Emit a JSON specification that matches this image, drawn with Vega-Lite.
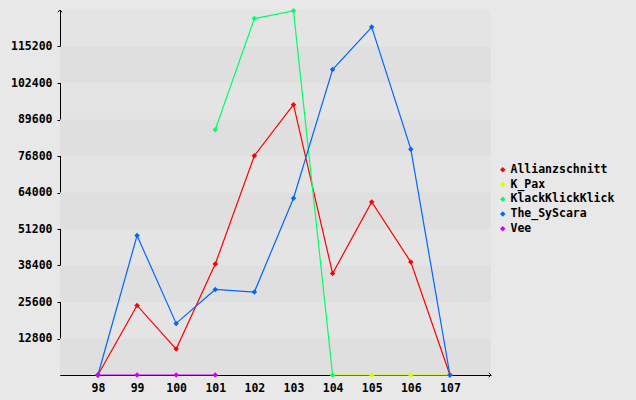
{
  "$schema": "https://vega.github.io/schema/vega-lite/v6.json",
  "width": 431,
  "height": 365,
  "autosize": "none",
  "padding": {"left": 60, "top": 10, "right": 145, "bottom": 25},
  "background": "#e8e8e8",
  "config": {
    "view": {"stroke": null, "fill": "#e4e4e4"},
    "font": "DejaVu Sans Mono",
    "axis": {
      "domainColor": "#000000",
      "domainWidth": 1,
      "tickColor": "#000000",
      "labelFont": "DejaVu Sans Mono",
      "labelFontWeight": "bold",
      "labelFontSize": 11.5,
      "labelColor": "#000000",
      "grid": false,
      "title": null
    },
    "legend": {
      "labelFont": "DejaVu Sans Mono",
      "labelFontWeight": "bold",
      "labelFontSize": 11.5,
      "labelColor": "#000000"
    }
  },
  "datasets": {
    "bands": [
      {"lo": 0, "hi": 12800},
      {"lo": 25600, "hi": 38400},
      {"lo": 51200, "hi": 64000},
      {"lo": 76800, "hi": 89600},
      {"lo": 102400, "hi": 115200}
    ],
    "series": [
      {"s": "Allianzschnitt", "round": 98, "v": 0},
      {"s": "Allianzschnitt", "round": 99, "v": 24400},
      {"s": "Allianzschnitt", "round": 100, "v": 9100},
      {"s": "Allianzschnitt", "round": 101, "v": 38900},
      {"s": "Allianzschnitt", "round": 102, "v": 76900},
      {"s": "Allianzschnitt", "round": 103, "v": 94800},
      {"s": "Allianzschnitt", "round": 104, "v": 35600},
      {"s": "Allianzschnitt", "round": 105, "v": 60700},
      {"s": "Allianzschnitt", "round": 106, "v": 39600},
      {"s": "Allianzschnitt", "round": 107, "v": 0},
      {"s": "K_Pax", "round": 104, "v": 0},
      {"s": "K_Pax", "round": 105, "v": 0},
      {"s": "K_Pax", "round": 106, "v": 0},
      {"s": "K_Pax", "round": 107, "v": 0},
      {"s": "KlackKlickKlick", "round": 101, "v": 86000},
      {"s": "KlackKlickKlick", "round": 102, "v": 125000},
      {"s": "KlackKlickKlick", "round": 103, "v": 127700},
      {"s": "KlackKlickKlick", "round": 104, "v": 0},
      {"s": "The_SyScara", "round": 98, "v": 0},
      {"s": "The_SyScara", "round": 99, "v": 48900},
      {"s": "The_SyScara", "round": 100, "v": 18100},
      {"s": "The_SyScara", "round": 101, "v": 30000},
      {"s": "The_SyScara", "round": 102, "v": 29100},
      {"s": "The_SyScara", "round": 103, "v": 62000},
      {"s": "The_SyScara", "round": 104, "v": 107100},
      {"s": "The_SyScara", "round": 105, "v": 122000},
      {"s": "The_SyScara", "round": 106, "v": 79200},
      {"s": "The_SyScara", "round": 107, "v": 0},
      {"s": "Vee", "round": 98, "v": 0},
      {"s": "Vee", "round": 99, "v": 0},
      {"s": "Vee", "round": 100, "v": 0},
      {"s": "Vee", "round": 101, "v": 0}
    ],
    "arrows": [
      {"round": 108.05, "v": 0, "dir": "right"},
      {"round": 97.03, "v": 128000, "dir": "up"}
    ]
  },
  "layer": [
    {
      "data": {"name": "bands"},
      "mark": {"type": "rect", "color": "#dfdfdf"},
      "encoding": {
        "y": {"field": "lo", "type": "quantitative", "scale": {"domain": [0, 128000], "nice": false, "zero": true}},
        "y2": {"field": "hi"}
      }
    },
    {
      "data": {"name": "series"},
      "mark": {"type": "line", "strokeWidth": 1.2},
      "encoding": {
        "x": {
          "field": "round", "type": "quantitative",
          "scale": {"domain": [97.03, 108.05], "nice": false, "zero": false},
          "axis": {"values": [98, 99, 100, 101, 102, 103, 104, 105, 106, 107], "tickSize": 0, "labelPadding": 7, "format": "d"}
        },
        "y": {
          "field": "v", "type": "quantitative",
          "scale": {"domain": [0, 128000], "nice": false, "zero": true},
          "axis": {"values": [12800, 25600, 38400, 51200, 64000, 76800, 89600, 102400, 115200], "tickSize": 3, "labelPadding": 5, "format": "d"}
        },
        "color": {
          "field": "s", "type": "nominal",
          "scale": {
            "domain": ["Allianzschnitt", "K_Pax", "KlackKlickKlick", "The_SyScara", "Vee"],
            "range": ["#ff0000", "#d8ff00", "#00ff66", "#0066ff", "#cc00ff"]
          },
          "legend": {
            "title": null,
            "orient": "none",
            "legendX": 437,
            "legendY": 154,
            "symbolType": "diamond",
            "symbolSize": 30,
            "symbolStrokeWidth": 0,
            "labelOffset": 2,
            "rowPadding": 1.75,
            "padding": 0
          }
        },
        "detail": {"field": "s"}
      }
    },
    {
      "data": {"name": "series"},
      "mark": {"type": "point", "shape": "diamond", "filled": true, "size": 30, "opacity": 1},
      "encoding": {
        "x": {"field": "round", "type": "quantitative"},
        "y": {"field": "v", "type": "quantitative"},
        "color": {"field": "s", "type": "nominal"}
      }
    },
    {
      "data": {"name": "arrows"},
      "mark": {"type": "point", "filled": false, "stroke": "#000000", "strokeWidth": 1, "size": 20, "clip": false, "opacity": 1},
      "encoding": {
        "x": {"field": "round", "type": "quantitative"},
        "y": {"field": "v", "type": "quantitative"},
        "shape": {
          "field": "dir", "type": "nominal",
          "scale": {"domain": ["right", "up"], "range": ["M-1,-1L0,0L-1,1", "M-1,1L0,0L1,1"]},
          "legend": null
        }
      }
    }
  ]
}
